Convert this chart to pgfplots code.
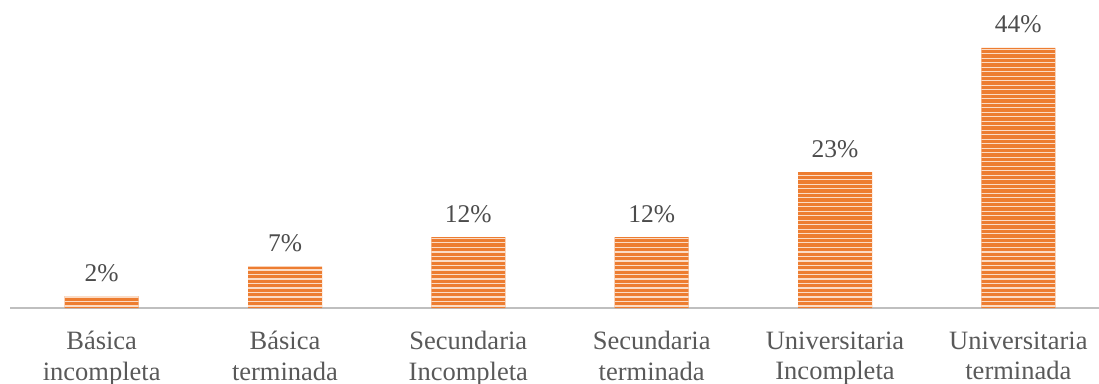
\documentclass[border=0pt]{standalone}
\usepackage{fontspec}
\setmainfont{Liberation Serif}
\usepackage{pgfplots}
\pgfplotsset{compat=1.18}
\usetikzlibrary{patterns}
\pgfdeclarepatternformonly{hstripes}{\pgfpoint{-1pt}{-1pt}}{\pgfpoint{200pt}{5.5pt}}{\pgfpoint{200pt}{4.5pt}}{%
  \pgfpathrectangle{\pgfpoint{-1pt}{0pt}}{\pgfpoint{202pt}{1.4pt}}\pgfusepath{fill}}
\definecolor{barorange}{HTML}{ED7D31}
\definecolor{stripe}{HTML}{FBDCC6}
\definecolor{txt}{HTML}{595959}
\definecolor{axgray}{HTML}{BFBFBF}
\begin{document}
\begin{tikzpicture}
\begin{axis}[
  scale only axis,
  width=1089pt, height=308pt,
  xmin=-0.5, xmax=5.44,
  ymin=0, ymax=52.1,
  axis x line=bottom, axis y line=none,
  axis line style={axgray, line width=2.5pt, -},
  xtick={0,1,2,3,4,5},
  xticklabels={{Básica\\incompleta},{Básica\\terminada},{Secundaria\\Incompleta},{Secundaria\\terminada},{Universitaria\\Incompleta},{Universitaria\\terminada}},
  xticklabel style={align=center, font=\fontsize{26.5}{30.5}\selectfont, text=txt, anchor=north, yshift=-20pt},
  major tick length=0pt,
  ytick=\empty,
  bar width=74pt,
  clip=false,
  /pgf/number format/assume math mode=true,
  nodes near coords={\pgfmathprintnumber{\pgfplotspointmeta}\%},
  every node near coord/.append style={font=\fontsize{25.5}{30}\selectfont, text=txt!85!black, anchor=base, yshift=15pt},
]
\addplot[ybar, fill=barorange, draw=none,
  postaction={pattern=hstripes, pattern color=stripe}]
  coordinates {(0,2) (1,7) (2,12) (3,12) (4,23) (5,44)};
\end{axis}
\pgfresetboundingbox
\path (-10pt,-75pt) rectangle (1089pt,308pt);
\end{tikzpicture}
\end{document}
